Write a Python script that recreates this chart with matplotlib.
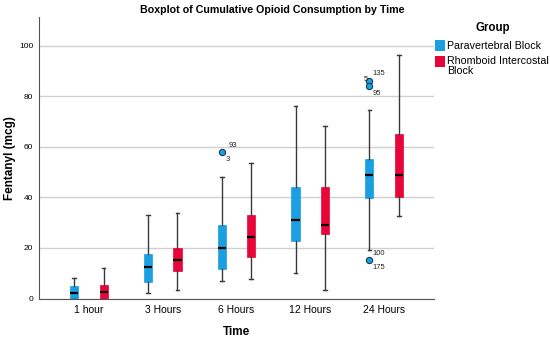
import matplotlib
matplotlib.use("Agg")
import matplotlib.pyplot as plt
from matplotlib.patches import Rectangle

plt.rcParams['font.family'] = ['Liberation Sans', 'DejaVu Sans']

times = ["1 hour", "3 Hours", "6 Hours", "12 Hours", "24 Hours"]
groups = ["Paravertebral Block", "Rhomboid Intercostal\nBlock"]
colors = ["#1a9fe0", "#e8053a"]

# [whislo, q1, med, q3, whishi] per time point
para_stats = [
    [0, 0, 2.3, 4.9, 8],
    [2, 6.5, 12.3, 17.5, 33.1],
    [6.9, 11.7, 20.1, 29.2, 48.1],
    [10.2, 22.7, 31.0, 44.1, 76.2],
    [19.2, 39.6, 48.7, 55.0, 74.4],
]
rhomb_stats = [
    [0, 0, 2.4, 5.3, 12],
    [3.4, 10.7, 15.1, 20.0, 33.7],
    [7.7, 16.5, 24.2, 33.0, 53.7],
    [3.4, 25.4, 29.2, 44.1, 68.2],
    [32.6, 40.2, 48.8, 65.0, 96.4],
]
para_fliers = [[], [], [57.9], [], [86.1, 84.1, 15.2]]
rhomb_fliers = [[], [], [], [], []]

# outlier labels: (time index, value, text, dx, dy, ha)
outlier_labels = [
    (2, 57.9, "93", 5, 5, "left"),
    (2, 57.9, "3", 2.5, -5, "left"),
    (4, 86.1, "135", 2, 5.5, "left"),
    (4, 86.1, "5", -1, 1, "right"),
    (4, 84.1, "95", 2, -5.5, "left"),
    (4, 15.2, "100", 2, 5, "left"),
    (4, 15.2, "175", 2, -5.5, "left"),
]

fig = plt.figure(figsize=(5.5, 3.39), dpi=100)
ax = fig.add_axes([39/550, 1 - 298.5/339, (434-39)/550, (298.5-17)/339])

offset = 0.2
width = 0.11
for gi, (stats, fliers) in enumerate([(para_stats, para_fliers), (rhomb_stats, rhomb_fliers)]):
    bxp = []
    for s, f in zip(stats, fliers):
        bxp.append(dict(whislo=s[0], q1=s[1], med=s[2], q3=s[3], whishi=s[4], fliers=f))
    pos = [i + (-offset if gi == 0 else offset) for i in range(len(times))]
    ax.bxp(bxp, positions=pos, widths=width, patch_artist=True, showfliers=True,
           boxprops=dict(facecolor=colors[gi], edgecolor=colors[gi], linewidth=0.5),
           medianprops=dict(color="black", linewidth=1.6),
           whiskerprops=dict(color="#3a3a3a", linewidth=1.0),
           capprops=dict(color="#3a3a3a", linewidth=1.0),
           capwidths=0.05,
           flierprops=dict(marker="o", markerfacecolor=colors[gi], markeredgecolor="#1a3a5a",
                           markersize=4.5, markeredgewidth=0.8),
           zorder=3)

for ti, v, t, dx, dy, ha in outlier_labels:
    ax.annotate(t, (ti - offset, v), xytext=(dx, dy), textcoords="offset points",
                fontsize=5.5, ha=ha, va="center", color="#222222")

ax.set_xlim(-0.676, 4.676)
ax.set_ylim(0, 111.3)
ax.set_xticks(range(len(times)))
ax.set_xticklabels(times, fontsize=7.5)
ax.set_yticks([0, 20, 40, 60, 80, 100])
ax.tick_params(axis="y", labelsize=6, length=0, pad=4)
ax.tick_params(axis="x", length=0, pad=5)
ax.yaxis.grid(True, color="#d0d0d0", linewidth=1.0, zorder=0)
ax.set_axisbelow(True)
for sp in ["top", "right"]:
    ax.spines[sp].set_visible(False)
for sp in ["left", "bottom"]:
    ax.spines[sp].set_color("#555555")
    ax.spines[sp].set_linewidth(0.8)

ax.set_xlabel("Time", fontsize=8.5, fontweight="bold", va="center")
ax.xaxis.set_label_coords(0.5, (298.5 - 332) / 281.5)
ax.set_ylabel("Fentanyl (mcg)", fontsize=8.5, fontweight="bold", va="center")
ax.yaxis.set_label_coords((10 - 39) / 395, 0.5 + (298.5 - 158 - 140.75) / 281.5)

fig.text(272/550, 1 - 10/339, "Boxplot of Cumulative Opioid Consumption by Time",
         fontsize=7.7, fontweight="bold", ha="center", va="center")

# Legend
fig.text(493/550, 1 - 28/339, "Group", fontsize=8.3, fontweight="bold", ha="center", va="center")
leg_y = [46, 62]
for i, g in enumerate(groups):
    y = leg_y[i]
    fig.patches.append(Rectangle((435/550, 1 - (y + 5)/339), 10/550, 11/339,
                                 transform=fig.transFigure, facecolor=colors[i], edgecolor="none"))
    fig.text(447/550, 1 - y/339, g, fontsize=7.7, ha="left", va="top" if i == 1 else "center",
             linespacing=0.95)
fig.texts[-1].set_position((447/550, 1 - 56/339))

fig.savefig("out.png", dpi=100)
